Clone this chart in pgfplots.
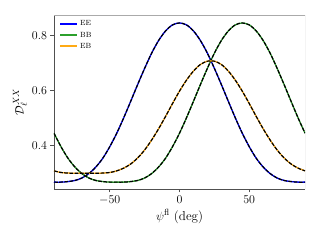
\documentclass[border=0pt]{standalone}
\usepackage{pgfplots}
\pgfplotsset{compat=1.18}
\definecolor{mplgreen}{RGB}{44,160,44}
\definecolor{mplorange}{RGB}{255,170,20}
\definecolor{spinedark}{RGB}{80,80,80}
\definecolor{spinelight}{RGB}{170,170,170}
\begin{document}
\begin{tikzpicture}
\begin{axis}[
  at={(0,0)}, anchor=south west,
  scale only axis, width=251pt, height=174pt,
  xmin=-90, xmax=90, ymin=0.243, ymax=0.876,
  axis x line*=bottom, axis y line*=left,
  axis line style={spinedark, line width=0.8pt},
  xtick={-50,0,50}, ytick={0.4,0.6,0.8},
  yticklabel style={/pgf/number format/fixed, /pgf/number format/precision=1, /pgf/number format/fixed zerofill},
  tick align=outside, major tick length=3.5pt,
  tick style={spinedark, line width=0.8pt},
  ticklabel style={font=\fontsize{13}{15}\selectfont},
  xlabel={$\psi^{\mathrm{fl}}$ (deg)},
  ylabel={$\mathcal{D}_\ell^{XX}$},
  label style={font=\fontsize{13}{15}\selectfont},
  xlabel style={yshift=2pt},
  ylabel style={yshift=-2pt},
  legend style={draw=none, fill=none, at={(rel axis cs:0.02,1)}, anchor=north west, yshift=-3.5pt,
    font=\fontsize{7.5}{8.5}\selectfont, row sep=0pt, inner sep=0pt,
    nodes={minimum height=11pt, inner sep=0pt, inner xsep=2pt}},
  legend cell align=left,
  legend image code/.code={\draw[#1] (0pt,0pt) -- (17pt,0pt);},
]
\addlegendimage{draw=blue, line width=2pt}
\addlegendentry{EE}
\addlegendimage{draw=mplgreen, line width=2pt}
\addlegendentry{BB}
\addlegendimage{draw=mplorange, line width=2pt}
\addlegendentry{EB}
% EE
\addplot[blue, line width=1.3pt, smooth, forget plot] coordinates {
(-90,0.268)(-85,0.268)(-80,0.270)(-75,0.274)(-70,0.283)(-65,0.299)(-60,0.323)(-55,0.355)(-50,0.397)(-45,0.446)(-40,0.502)(-35,0.562)(-30,0.623)(-25,0.682)(-20,0.737)(-15,0.783)(-10,0.818)(-5,0.840)(0,0.847)
(5,0.840)(10,0.818)(15,0.783)(20,0.737)(25,0.682)(30,0.623)(35,0.562)(40,0.502)(45,0.446)(50,0.397)(55,0.355)(60,0.323)(65,0.299)(70,0.283)(75,0.274)(80,0.270)(85,0.268)(90,0.268)};
\addplot[black, line width=1.2pt, dash pattern=on 3.8pt off 1.4pt, smooth, forget plot] coordinates {
(-90,0.268)(-85,0.268)(-80,0.270)(-75,0.274)(-70,0.283)(-65,0.299)(-60,0.323)(-55,0.355)(-50,0.397)(-45,0.446)(-40,0.502)(-35,0.562)(-30,0.623)(-25,0.682)(-20,0.737)(-15,0.783)(-10,0.818)(-5,0.840)(0,0.847)
(5,0.840)(10,0.818)(15,0.783)(20,0.737)(25,0.682)(30,0.623)(35,0.562)(40,0.502)(45,0.446)(50,0.397)(55,0.355)(60,0.323)(65,0.299)(70,0.283)(75,0.274)(80,0.270)(85,0.268)(90,0.268)};
% BB
\addplot[mplgreen, line width=1.3pt, smooth, forget plot] coordinates {
(-90,0.446)(-85,0.397)(-80,0.355)(-75,0.323)(-70,0.299)(-65,0.283)(-60,0.274)(-55,0.270)(-50,0.268)(-45,0.268)(-40,0.268)(-35,0.270)(-30,0.274)(-25,0.283)(-20,0.299)(-15,0.323)(-10,0.355)(-5,0.397)(0,0.446)
(5,0.502)(10,0.562)(15,0.623)(20,0.682)(25,0.737)(30,0.783)(35,0.818)(40,0.840)(45,0.847)(50,0.840)(55,0.818)(60,0.783)(65,0.737)(70,0.682)(75,0.623)(80,0.562)(85,0.502)(90,0.446)};
\addplot[black, line width=1.2pt, dash pattern=on 3.8pt off 1.4pt, smooth, forget plot] coordinates {
(-90,0.446)(-85,0.397)(-80,0.355)(-75,0.323)(-70,0.299)(-65,0.283)(-60,0.274)(-55,0.270)(-50,0.268)(-45,0.268)(-40,0.268)(-35,0.270)(-30,0.274)(-25,0.283)(-20,0.299)(-15,0.323)(-10,0.355)(-5,0.397)(0,0.446)
(5,0.502)(10,0.562)(15,0.623)(20,0.682)(25,0.737)(30,0.783)(35,0.818)(40,0.840)(45,0.847)(50,0.840)(55,0.818)(60,0.783)(65,0.737)(70,0.682)(75,0.623)(80,0.562)(85,0.502)(90,0.446)};
% EB
\addplot[mplorange, line width=1.3pt, smooth, forget plot] coordinates {
(-90,0.309)(-85,0.303)(-80,0.301)(-75,0.300)(-70,0.300)(-65,0.300)(-60,0.300)(-55,0.301)(-50,0.303)(-45,0.309)(-40,0.319)(-35,0.334)(-30,0.356)(-25,0.385)(-20,0.421)(-15,0.462)(-10,0.507)(-5,0.554)(0,0.599)
(5,0.639)(10,0.672)(15,0.696)(20,0.708)(25,0.708)(30,0.696)(35,0.672)(40,0.639)(45,0.599)(50,0.554)(55,0.507)(60,0.462)(65,0.421)(70,0.385)(75,0.356)(80,0.334)(85,0.319)(90,0.309)};
\addplot[black, line width=1.2pt, dash pattern=on 3.8pt off 1.4pt, smooth, forget plot] coordinates {
(-90,0.309)(-85,0.303)(-80,0.301)(-75,0.300)(-70,0.300)(-65,0.300)(-60,0.300)(-55,0.301)(-50,0.303)(-45,0.309)(-40,0.319)(-35,0.334)(-30,0.356)(-25,0.385)(-20,0.421)(-15,0.462)(-10,0.507)(-5,0.554)(0,0.599)
(5,0.639)(10,0.672)(15,0.696)(20,0.708)(25,0.708)(30,0.696)(35,0.672)(40,0.639)(45,0.599)(50,0.554)(55,0.507)(60,0.462)(65,0.421)(70,0.385)(75,0.356)(80,0.334)(85,0.319)(90,0.309)};
\draw[spinelight, line width=0.8pt] (rel axis cs:0,1) -- (rel axis cs:1,1) -- (rel axis cs:1,0);
\end{axis}
\path (-54pt,-51pt) rectangle (266pt,189pt);
\end{tikzpicture}
\end{document}
